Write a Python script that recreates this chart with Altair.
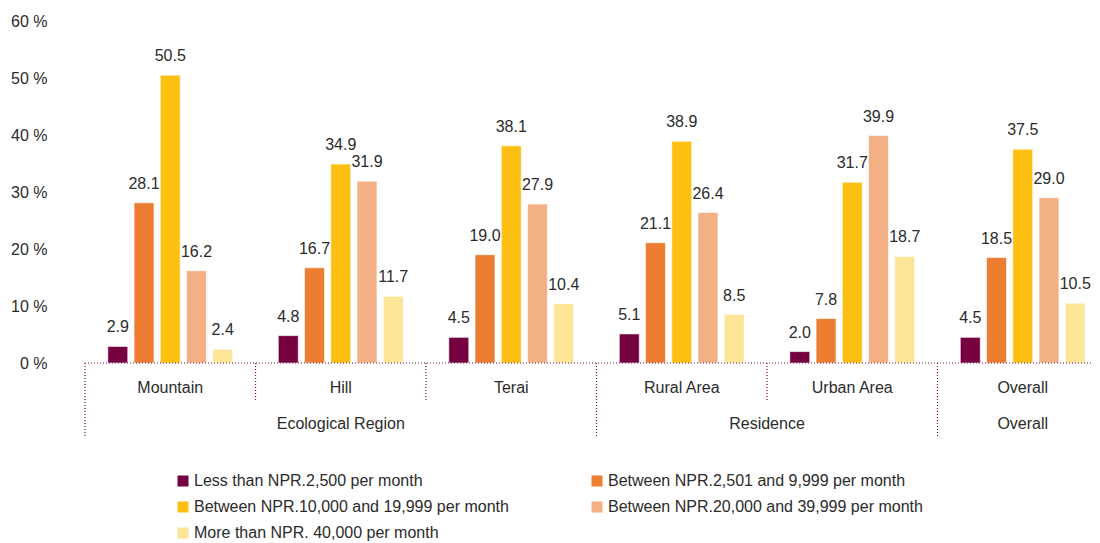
import altair as alt
import pandas as pd

groups = ["Mountain", "Hill", "Terai", "Rural Area", "Urban Area", "Overall"]
series = [
    "Less than NPR.2,500 per month",
    "Between NPR.2,501 and  9,999 per month",
    "Between  NPR.10,000 and 19,999 per month",
    "Between NPR.20,000 and 39,999 per month",
    "More than NPR. 40,000 per month",
]
colors = ["#740040", "#ED7D31", "#FDBF11", "#F3B084", "#FDE598"]

less_2500 = [2.9, 4.8, 4.5, 5.1, 2.0, 4.5]
btw_2501_9999 = [28.1, 16.7, 19.0, 21.1, 7.8, 18.5]
btw_10000_19999 = [50.5, 34.9, 38.1, 38.9, 31.7, 37.5]
btw_20000_39999 = [16.2, 31.9, 27.9, 26.4, 39.9, 29.0]
more_40000 = [2.4, 11.7, 10.4, 8.5, 18.7, 10.5]

supergroups = ["Ecological Region", "Residence", "Overall"]
super_start = [0, 3, 5]
super_end = [3, 5, 6]

# group boundaries (index) and whether a boundary separates super groups
bounds = [0, 1, 2, 3, 4, 5, 6]
bound_outer = [True, False, False, True, False, True, True]

# legend is laid out column by column; this order reads row by row
legend_order = [0, 2, 4, 1, 3]

FONT = "Liberation Sans"
TXT = "#2b2b2b"
LINE = "#7a1048"
W = 1023
H = 342

rows = []
for s, vals in zip(series, [less_2500, btw_2501_9999, btw_10000_19999, btw_20000_39999, more_40000]):
    for g, v in zip(groups, vals):
        rows.append({"group": g, "series": s, "value": v})
df = pd.DataFrame(rows)

xband = alt.X("group:N", sort=groups, axis=None,
              scale=alt.Scale(paddingInner=0, paddingOuter=0))
xoff = alt.XOffset("series:N", sort=series,
                   scale=alt.Scale(paddingInner=0.24, paddingOuter=0.87))
yq = alt.Y("value:Q", scale=alt.Scale(domain=[0, 60]),
           axis=alt.Axis(values=[0, 10, 20, 30, 40, 50, 60], labelExpr="datum.value + ' %'",
                         ticks=False, domain=False, grid=False, title=None,
                         labelFont=FONT, labelFontSize=16, labelColor=TXT,
                         labelPadding=38, minExtent=77, maxExtent=77))

bars = alt.Chart(df).mark_bar(stroke="white", strokeWidth=0.6).encode(
    x=xband, xOffset=xoff, y=yq,
    color=alt.Color("series:N",
                    scale=alt.Scale(domain=[series[i] for i in legend_order],
                                    range=[colors[i] for i in legend_order]),
                    legend=alt.Legend(title=None, orient="none", legendX=90, legendY=452,
                                      columns=2, columnPadding=75, rowPadding=10,
                                      symbolType="square", symbolSize=121, symbolStrokeWidth=0,
                                      labelFont=FONT, labelFontSize=16, labelColor=TXT,
                                      labelOffset=3, labelLimit=400, padding=0)),
)

labels = alt.Chart(df).mark_text(baseline="bottom", dy=-11, font=FONT, fontSize=16, color=TXT).encode(
    x=xband, xOffset=xoff, y=alt.Y("value:Q"),
    text=alt.Text("value:Q", format=".1f"),
)

xq = alt.Scale(domain=[0, 6], range=[0, W])

base_df = pd.DataFrame({"a": [0], "b": [6]})
baseline = alt.Chart(base_df).mark_rule(color=LINE, strokeDash=[1, 2], strokeWidth=1.2).encode(
    x=alt.X("a:Q", scale=xq, axis=None), x2="b:Q", y=alt.value(H),
)

sep_df = pd.DataFrame({"pos": bounds, "outer": bound_outer})
inner = alt.Chart(sep_df[~sep_df["outer"]]).mark_rule(color=LINE, strokeDash=[1, 2], strokeWidth=1.2).encode(
    x=alt.X("pos:Q", scale=xq, axis=None), y=alt.value(H), y2=alt.value(H + 37),
)
outer = alt.Chart(sep_df[sep_df["outer"]]).mark_rule(color=LINE, strokeDash=[1, 2], strokeWidth=1.2).encode(
    x=alt.X("pos:Q", scale=xq, axis=None), y=alt.value(H), y2=alt.value(H + 74),
)

grp_df = pd.DataFrame({"name": groups, "mid": [i + 0.5 for i in range(len(groups))]})
grp_text = alt.Chart(grp_df).mark_text(font=FONT, fontSize=16, color=TXT, baseline="middle").encode(
    x=alt.X("mid:Q", scale=xq, axis=None), y=alt.value(H + 25), text="name:N",
)

sup_df = pd.DataFrame({"name": supergroups,
                       "mid": [(a + b) / 2 for a, b in zip(super_start, super_end)]})
sup_text = alt.Chart(sup_df).mark_text(font=FONT, fontSize=16, color=TXT, baseline="middle").encode(
    x=alt.X("mid:Q", scale=xq, axis=None), y=alt.value(H + 61), text="name:N",
)

chart = alt.layer(
    alt.layer(bars, labels),
    alt.layer(baseline, inner, outer, grp_text, sup_text),
).resolve_scale(x="independent").properties(
    width=W, height=H,
    autosize=alt.AutoSizeParams(type="none"),
    padding={"left": 77, "top": 13, "right": -16, "bottom": 186},
).configure_view(stroke=None)

chart.save("out.html", embed_options={"renderer": "svg", "actions": False})
